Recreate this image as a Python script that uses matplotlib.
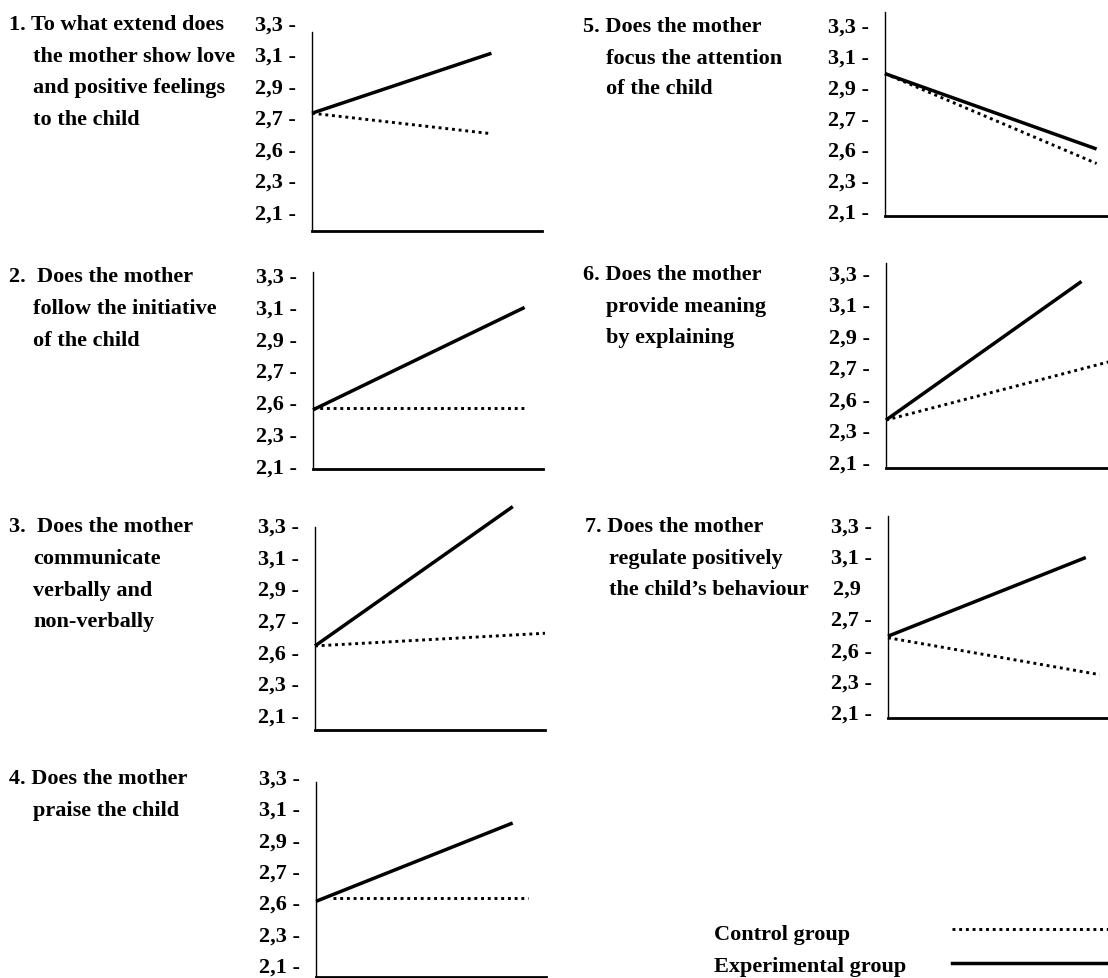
"""
Seven small before/after panels: control vs experimental group.
Y axis labels are not linearly spaced, values are mapped onto tick slots.
"""

import matplotlib
matplotlib.use('Agg')
import matplotlib.pyplot as plt
import matplotlib.transforms as mtransforms
from matplotlib.lines import Line2D
import numpy as np

plt.rcParams.update({
    'font.family': ['Liberation Serif', 'DejaVu Serif'],
    'font.weight': 'bold',
    'font.size': 16,
})

# ── data ────────────────────────────────────────────────────
TICK_VALUES = [2.1, 2.3, 2.6, 2.7, 2.9, 3.1, 3.3]

numbers = ['1.', '2. ', '3. ', '4.', '5.', '6.', '7.']
questions = [
    ['To what extend does', 'the mother show love', 'and positive feelings', 'to the child'],
    ['Does the mother', 'follow the initiative', 'of the child'],
    ['Does the mother', 'communicate', 'verbally and', 'non-verbally'],
    ['Does the mother', 'praise the child'],
    ['Does the mother', 'focus the attention', 'of the child'],
    ['Does the mother', 'provide meaning', 'by explaining'],
    ['Does the mother', 'regulate positively', 'the child\u2019s behaviour'],
]

# pre / post scores
exp_pre   = [2.72, 2.52, 2.615, 2.60, 2.98, 2.39, 2.64]
exp_post  = [3.10, 3.09, 3.41, 3.00, 2.59, 3.24, 3.085]
ctrl_pre  = [2.72, 2.54, 2.615, 2.61, 2.98, 2.39, 2.635]
ctrl_post = [2.645, 2.54, 2.655, 2.61, 2.45, 2.73, 2.35]

# where each segment starts / ends along the time axis (0..1)
exp_x0  = [0, 0, 0, 0, 0, 0, 0]
exp_x1  = [0.78, 0.92, 0.86, 0.855, 0.92, 0.85, 0.86]
ctrl_x0 = [0, 0, 0, 0.075, 0, 0, 0]
ctrl_x1 = [0.78, 0.92, 1.0, 0.92, 0.92, 0.97, 0.92]

legend_labels = ['Control group', 'Experimental group']

# ── layout (pixels) ─────────────────────────────────────────
W, H = 1108, 979
AX_LEN = 230
# axis x, label 3,3 y, label 2,1 y, spine top y, x-axis y, title x, indent x
LAYOUT = [
    (312, 22.7, 212, 33, 232, 9, 33),
    (313, 275, 466, 273, 470, 9, 33),
    (315, 525, 715, 528, 731, 9, 33),
    (316, 777, 965, 783, 978, 9, 33),
    (885, 25, 211, 13, 217, 583, 606),
    (886, 273, 462, 264, 469, 583, 606),
    (888, 525, 712, 517, 719, 585, 609),
]


def to_pos(v):
    v = np.asarray(v, dtype=float)
    pos = np.interp(v, TICK_VALUES, np.arange(len(TICK_VALUES)))
    above = v > TICK_VALUES[-1]
    pos[above] = len(TICK_VALUES) - 1 + (v[above] - TICK_VALUES[-1]) / 0.2
    return pos


def tick_text(v, i):
    s = f'{v:.1f}'.replace('.', ',')
    # panel 7 prints its 2,9 without the dash
    if i == 6 and abs(v - 2.9) < 1e-9:
        return s + '  '
    return s + ' -'


fig = plt.figure(figsize=(W / 100, H / 100), dpi=100)

for i, (ax_x, y33, y21, ytop, yax, tx, ix) in enumerate(LAYOUT):
    unit = (y21 - y33) / 6
    ylo = -(yax - y21) / unit
    ax = fig.add_axes([ax_x / W, 1 - yax / H, AX_LEN / W, (yax - y33) / H])
    ax.set_xlim(0, 1)
    ax.set_ylim(ylo, 6)

    ax.plot([ctrl_x0[i], ctrl_x1[i]], to_pos([ctrl_pre[i], ctrl_post[i]]),
            color='black', lw=2.1, linestyle=(0, (1, 1.3)),
            dash_capstyle='butt', clip_on=False, zorder=3)
    ax.plot([exp_x0[i], exp_x1[i]], to_pos([exp_pre[i], exp_post[i]]),
            color='black', lw=2.5, solid_capstyle='butt',
            clip_on=False, zorder=4)

    for side in ('top', 'right'):
        ax.spines[side].set_visible(False)
    ax.spines['left'].set_linewidth(1.0)
    ax.spines['left'].set_bounds(ylo, 6 - (ytop - y33) / unit)
    ax.spines['bottom'].set_linewidth(2.0)

    ax.set_xticks([])
    ax.set_yticks(range(len(TICK_VALUES)))
    ax.set_yticklabels([tick_text(v, i) for v in TICK_VALUES])
    ax.tick_params(axis='y', length=0, pad=11.5, labelsize=16)
    ax.patch.set_visible(False)

    # question text, one line per tick slot
    trans = mtransforms.blended_transform_factory(fig.transFigure, ax.transData)
    lines = questions[i]
    ax.text(tx / W, 6, f'{numbers[i]} {lines[0]}', transform=trans,
            ha='left', va='center_baseline', fontsize=16)
    for k, line in enumerate(lines[1:], start=1):
        ax.text(ix / W, 6 - k, line, transform=trans,
                ha='left', va='center_baseline', fontsize=16)

# ── legend ──────────────────────────────────────────────────
fig.text(714 / W, 1 - 933 / H, legend_labels[0], ha='left',
         va='center_baseline', fontsize=16)
fig.text(714 / W, 1 - 965 / H, legend_labels[1], ha='left',
         va='center_baseline', fontsize=16)
fig.add_artist(Line2D([952 / W, 1.0], [1 - 930 / H] * 2, color='black',
                      lw=2.1, linestyle=(0, (1, 1.3)), dash_capstyle='butt'))
fig.add_artist(Line2D([952 / W, 1.0], [1 - 964 / H] * 2, color='black',
                      lw=2.5))

fig.savefig('out.png', dpi=100, facecolor='white')
